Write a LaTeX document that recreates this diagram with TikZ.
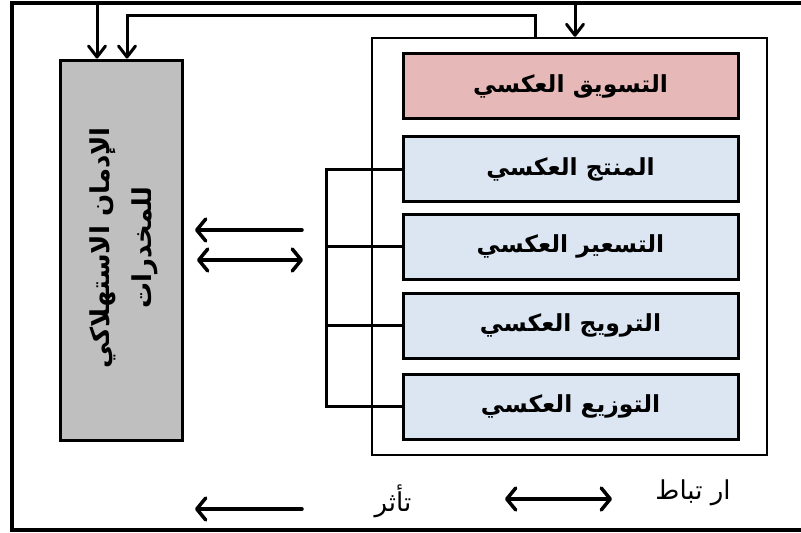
\documentclass[tikz,border=0pt]{standalone}
\usepackage{fontspec}
\newfontfamily\arabicfont[Script=Arabic]{DejaVu Sans}
\TeXXeTstate=1
\usetikzlibrary{arrows.meta,positioning}

\definecolor{mixpink}{HTML}{E6B9B8}
\definecolor{mixblue}{HTML}{DCE6F2}
\definecolor{addgray}{HTML}{BFBFBF}

\begin{document}
\begin{tikzpicture}[x=1pt, y=-1pt,
        mitem/.style = {draw, line width = 3pt, fill = mixblue, minimum width = 335pt, minimum height = 65pt,
                        font = \arabicfont\bfseries\fontsize{23.5}{27}\selectfont},
        bigarrow/.style = {line width = 3.5pt, line cap = round, -{Straight Barb[round, length = 9pt, width = 22pt]}},
        bothways/.style = {line width = 3.5pt, line cap = round, {Straight Barb[round, length = 9pt, width = 22pt]}-{Straight Barb[round, length = 9pt, width = 22pt]}},
        toparrow/.style = {line width = 3pt, -{Straight Barb[round, length = 11pt, width = 17pt]}},
        legend/.style = {font = \arabicfont\fontsize{26}{30}\selectfont}
    ]
        \useasboundingbox (0,0) rectangle (801,533);

        % outer frame, open on the right
        \draw[line width = 3.5pt] (801,3) -- (12,3) -- (12,530) -- (801,530);

        % left block
        \node[draw, line width = 3pt, fill = addgray, minimum width = 122pt, minimum height = 380pt] (addict) at (121,250) {};
        \node[rotate = 90, align = center, font = \arabicfont\bfseries\fontsize{26}{42}\selectfont] (addtxt) at (124,248)
            {\beginR الإدمان الاستهلاكي\endR\\\beginR للمخدرات\endR};

        % right block
        \node[draw, line width = 2.5pt, minimum width = 395pt, minimum height = 417pt] (mix) at (569.5,246.5) {};
        \node[mitem, fill = mixpink] (mark) at (570.5,86) {\beginR التسويق العكسي\endR};
        \node[mitem] (prod) at (570.5,169) {\beginR المنتج العكسي\endR};
        \node[mitem] (price) at (570.5,246.5) {\beginR التسعير العكسي\endR};
        \node[mitem] (promo) at (570.5,325.5) {\beginR الترويج العكسي\endR};
        \node[mitem] (dist) at (570.5,406.5) {\beginR التوزيع العكسي\endR};

        % bracket
        \coordinate (brk) at (326,0);
        \draw[line width = 3pt] (prod.west) -- (prod.west -| brk) -- (dist.west -| brk) -- (dist.west);
        \draw[line width = 3pt] (price.west) -- (price.west -| brk);
        \draw[line width = 3pt] (promo.west) -- (promo.west -| brk);

        % middle arrows
        \coordinate (m1) at (302,230);
        \coordinate (m2) at (195,230);
        \coordinate (m3) at (197,260);
        \coordinate (m4) at (303,260);
        \draw[bigarrow] (m1) -- (m2);
        \draw[bothways] (m3) -- (m4);

        % top arrows
        \coordinate (t1) at (97,3);
        \coordinate (t2) at (575,3);
        \coordinate (t3) at (535,15);
        \coordinate (t4) at (127,15);
        \draw[toparrow] (t1) -- (t1 |- addict.north);
        \draw[toparrow] (t2) -- (t2 |- mix.north);
        \draw[toparrow] (t3 |- mix.north) -- (t3) -- (t4) -- (t4 |- addict.north);

        % legend
        \coordinate (l1) at (302,509);
        \coordinate (l2) at (195,509);
        \coordinate (l3) at (505,499);
        \coordinate (l4) at (612,499);
        \draw[bigarrow] (l1) -- (l2);
        \draw[bothways] (l3) -- (l4);
        \node[legend] (effect) at (393,501) {\beginR تأثر\endR};
        \node[legend] (link) at (693,493) {\beginR ار تباط\endR};
    \end{tikzpicture}
\end{document}
